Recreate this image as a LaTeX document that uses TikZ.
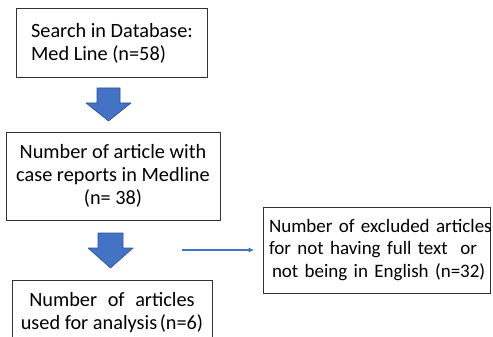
\documentclass[tikz,border=0pt]{standalone}
\usepackage{fontspec}
\setmainfont{Carlito}
\usetikzlibrary{arrows.meta}
\definecolor{arrowBlue}{RGB}{68,114,196}
\definecolor{arrowEdge}{RGB}{47,82,143}

\begin{document}
\begin{tikzpicture}[x=1pt,y=-1pt,
    box/.style={draw=black!80,line width=1pt,inner sep=0pt,font=\fontsize{20.3}{23}\selectfont},
    blockarrow/.style={draw=arrowEdge,fill=arrowBlue,line width=0.6pt,line join=round},
    excludearrow/.style={draw=arrowBlue,line width=1.1pt,-{Latex[length=6pt,width=5pt]}}]
  \useasboundingbox (0,0) rectangle (493,337);

  % Flow boxes
  \node[box,minimum width=191pt,minimum height=69pt,align=left] (search) at (112,43.5) {
    Search in Database:\\Med Line (n=58)
  };
  \node[box,minimum width=214pt,minimum height=88pt,align=center] (medline) at (113,176) {
    Number of article with\\case reports in Medline\\(n= 38)
  };
  \node[box,minimum width=200pt,minimum height=65pt,align=center] (analysis) at (112,312.5) {
    Number\hspace{6pt} of\hspace{6pt} articles\\used for analysis\hspace{-2pt} (n=6)
  };

  % Block arrows between the boxes
  \coordinate (arrowA) at (108.5,88);
  \coordinate (arrowB) at (110.5,233);
  \draw[blockarrow] (arrowA) ++(-11.5,0) -- ++(23,0) -- ++(0,15) -- ++(11,0)
    -- ++(-22.5,18) -- ++(-22.5,-18) -- ++(11,0) -- cycle;
  \draw[blockarrow] (arrowB) ++(-12.5,0) -- ++(25,0) -- ++(0,15) -- ++(10,0)
    -- ++(-22.5,20) -- ++(-22.5,-20) -- ++(10,0) -- cycle;

  % Excluded articles
  \node[box,font=\fontsize{19}{22.5}\selectfont,text width=215pt,inner xsep=6pt,minimum height=86pt,align=left] (excluded) at (376.5,250) {
    \mbox{Number of excluded articles}\\\mbox{for not having full text\ \ or}\\\mbox{\hspace{3pt}not being in English (n=32)}
  };
  \coordinate (exclStart) at (182,250);
  \draw[excludearrow] (exclStart) -- ([xshift=-8pt]excluded.west);
\end{tikzpicture}
\end{document}
